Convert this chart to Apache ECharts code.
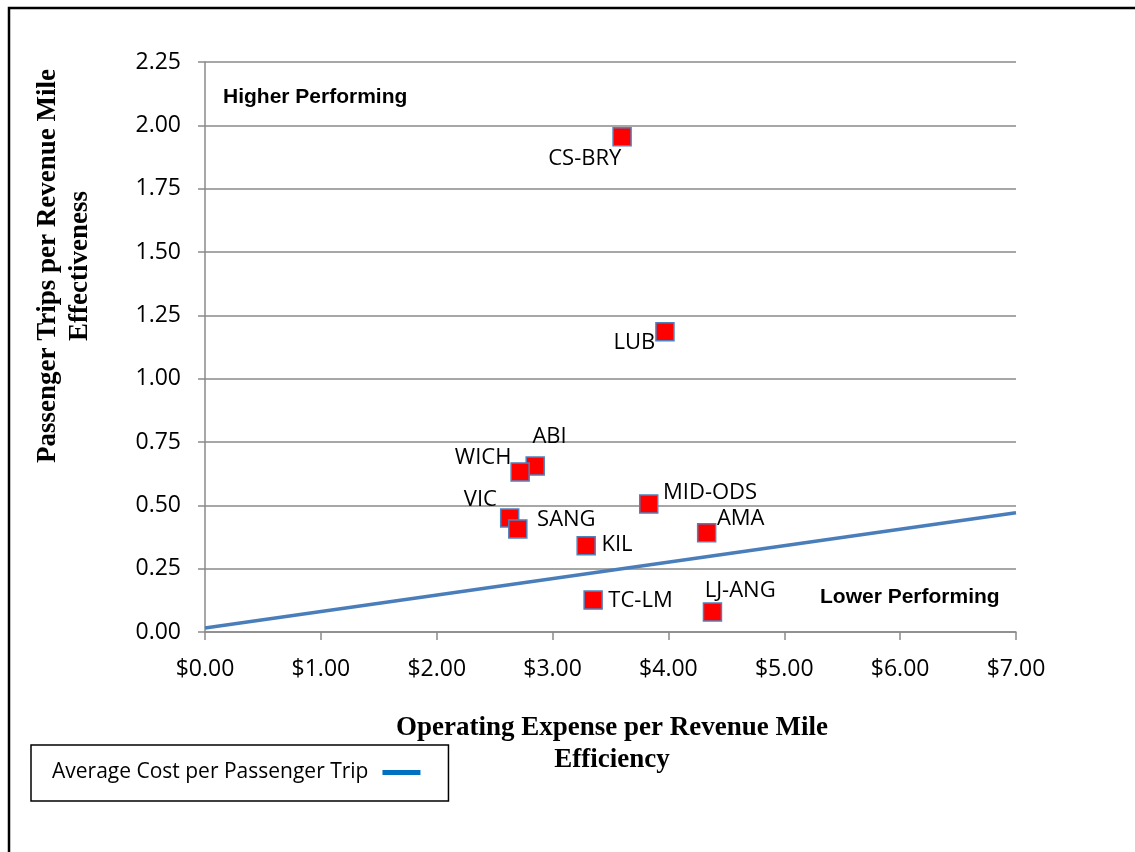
<!DOCTYPE html>
<html>
<head>
<meta charset="utf-8">
<script src="https://cdn.jsdelivr.net/npm/echarts@6/dist/echarts.min.js"></script>
<style>
html,body{margin:0;padding:0;background:#fff;overflow:hidden;}
#chart{width:1135px;height:852px;}
</style>
</head>
<body>
<div id="chart"></div>
<script>
// ---- data ----
const systems = ['CS-BRY','LUB','ABI','WICH','VIC','SANG','KIL','MID-ODS','AMA','TC-LM','LJ-ANG'];
const expensePerMile = [3.60, 3.97, 2.85, 2.72, 2.63, 2.70, 3.29, 3.83, 4.33, 3.35, 4.38];
const tripsPerMile   = [1.955, 1.185, 0.655, 0.632, 0.450, 0.407, 0.340, 0.505, 0.392, 0.126, 0.079];
const avgCostLineX = [0, 7];
const avgCostLineY = [0.016, 0.471];
const yTicks = [0, 0.25, 0.5, 0.75, 1, 1.25, 1.5, 1.75, 2, 2.25];
const xTicks = [0, 1, 2, 3, 4, 5, 6, 7];

// label placement (style only): [dx, dy, align] from marker centre
const labelPlace = {
  'CS-BRY': [0, 23, 'right'],
  'LUB': [-9, 12, 'right'],
  'ABI': [-2, -29, 'left'],
  'WICH': [-8, -13, 'right'],
  'VIC': [-12, -18, 'right'],
  'SANG': [20, -8, 'left'],
  'KIL': [16, 0, 'left'],
  'MID-ODS': [15, -11, 'left'],
  'AMA': [11, -13, 'left'],
  'TC-LM': [16, 1, 'left'],
  'LJ-ANG': [-7, -21, 'left']
};

const SYM = 18;
const scatterData = systems.map((n, i) => {
  const p = labelPlace[n];
  return {
    name: n,
    value: [expensePerMile[i], tripsPerMile[i]],
    label: {
      position: [SYM/2 + p[0], SYM/2 + p[1]],
      align: p[2],
      verticalAlign: 'middle'
    }
  };
});
const lineData = avgCostLineX.map((x, i) => [x, avgCostLineY[i]]);

const chart = echarts.init(document.getElementById('chart'), null, {renderer: 'canvas'});
const gridColor = '#8a8a8a';
const tickFont = {fontFamily: 'Open Sans', fontSize: 23, color: '#000'};

chart.setOption({
  backgroundColor: '#fff',
  animation: false,
  grid: {left: 205, right: 119, top: 62, bottom: 220},
  xAxis: {
    type: 'value', min: xTicks[0], max: xTicks[xTicks.length-1], interval: 1,
    axisLine: {show: true, onZero: false, lineStyle: {color: gridColor, width: 1.5}},
    axisTick: {show: true, length: 8, lineStyle: {color: gridColor, width: 1.5}},
    splitLine: {show: false},
    axisLabel: Object.assign({margin: 26, formatter: v => '$' + v.toFixed(2)}, tickFont)
  },
  yAxis: {
    type: 'value', min: yTicks[0], max: yTicks[yTicks.length-1], interval: 0.25,
    axisLine: {show: true, lineStyle: {color: gridColor, width: 1.5}},
    axisTick: {show: true, length: 7, lineStyle: {color: gridColor, width: 1.5}},
    splitLine: {show: true, lineStyle: {color: gridColor, width: 1.5}},
    axisLabel: Object.assign({margin: 24, formatter: v => v.toFixed(2)}, tickFont)
  },
  legend: {
    left: 31, top: 745,
    orient: 'horizontal',
    align: 'right',
    padding: [17, 28, 18, 21],
    borderColor: '#000', borderWidth: 1.5,
    itemWidth: 38, itemHeight: 5,
    icon: 'rect',
    textStyle: {fontFamily: 'Open Sans', fontSize: 21, color: '#000', padding: [0, 9, 0, 0]},
    data: [{name: 'Average Cost per Passenger Trip', itemStyle: {color: '#0070C0'}}]
  },
  series: [
    {
      name: 'Average Cost per Passenger Trip',
      type: 'line',
      data: lineData,
      showSymbol: false,
      symbol: 'none',
      lineStyle: {color: '#4A7EBB', width: 3.5},
      itemStyle: {color: '#0070C0'},
      z: 2
    },
    {
      name: 'Systems',
      type: 'scatter',
      data: scatterData,
      symbol: 'rect',
      symbolSize: SYM,
      itemStyle: {color: '#FF0000', borderColor: '#4F81BD', borderWidth: 1.5, opacity: 1},
      label: {show: true, formatter: '{b}', fontFamily: 'Open Sans', fontSize: 22, color: '#000'},
      z: 3
    }
  ],
  graphic: [
    {type: 'polyline', shape: {points: [[9, 860], [9, 8], [1140, 8]]}, style: {fill: 'none', stroke: '#000', lineWidth: 2.5}, silent: true},
    {type: 'text', left: 223, top: 87, style: {text: 'Higher Performing', font: 'bold 21px "Liberation Sans"', fill: '#000'}},
    {type: 'text', left: 820, top: 587, style: {text: 'Lower Performing', font: 'bold 21px "Liberation Sans"', fill: '#000'}},
    {type: 'text', x: 612, y: 744, style: {text: 'Operating Expense per Revenue Mile\nEfficiency', font: 'bold 27px "Liberation Serif"', fill: '#000', align: 'center', verticalAlign: 'middle', lineHeight: 32}},
    {type: 'text', x: 64, y: 266, rotation: Math.PI/2, style: {text: 'Passenger Trips per Revenue Mile\nEffectiveness', font: 'bold 27px "Liberation Serif"', fill: '#000', align: 'center', verticalAlign: 'middle', lineHeight: 32}}
  ]
});
</script>
</body>
</html>
